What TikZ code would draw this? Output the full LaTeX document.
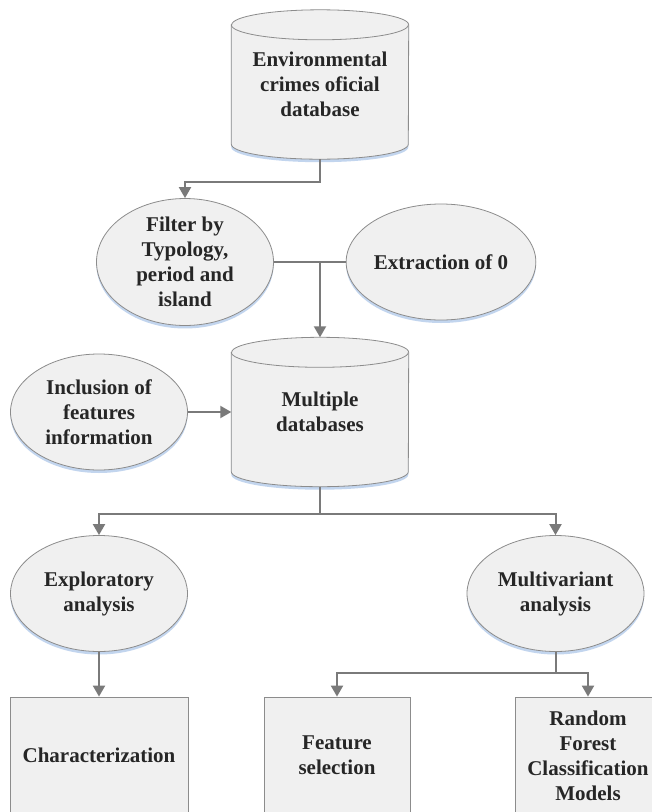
\documentclass[tikz,border=0pt]{standalone}
\usepackage{fontspec}
\setmainfont{Liberation Serif}
\usetikzlibrary{shapes.geometric,arrows.meta,shadows,backgrounds}
\definecolor{shfill}{HTML}{F0F0F0}
\definecolor{shline}{HTML}{8C8C8C}
\definecolor{conn}{HTML}{7A7A7A}
\definecolor{glow}{HTML}{A9C4E8}
\tikzset{
  txt/.style={font=\bfseries\fontsize{21}{25}\selectfont, text=black!85, align=center},
  glowsh/.style={drop shadow={shadow xshift=0pt, shadow yshift=-3pt, fill=glow, opacity=0.7}},
  ell/.style={ellipse, draw=shline, fill=shfill, line width=0.8pt, inner sep=0pt,
    minimum width=177pt, minimum height=116pt, txt, glowsh},
  boxn/.style={rectangle, draw=shline, fill=shfill, line width=0.8pt, inner sep=0pt,
    minimum height=117pt, txt},
  cylt/.style={inner sep=0pt, minimum width=177pt, minimum height=149pt, txt},
  cylbody/.style={fill=shfill, draw=shline, line width=0.8pt, glowsh},
  arr/.style={draw=conn, line width=2pt, -{Triangle[width=12pt,length=11pt]}},
  ln/.style={draw=conn, line width=2pt},
}
\newcommand\mycylinder[1]{%
  \path[cylbody] ([yshift=-15pt]#1.north west) -- ([yshift=15pt]#1.south west)
    arc[start angle=180, end angle=360, x radius=88.5pt, y radius=15pt]
    -- ([yshift=-15pt]#1.north east)
    arc[start angle=0, end angle=180, x radius=88.5pt, y radius=15pt] -- cycle;
  \draw[shline, line width=0.8pt] ([yshift=-15pt]#1.north west)
    arc[start angle=180, end angle=360, x radius=88.5pt, y radius=15pt];
}
\begin{document}
\begin{tikzpicture}[x=1pt, y=-1pt]
\useasboundingbox (0,0) rectangle (652,812);
\clip (0,0) rectangle (652,812);

% cylinders (text nodes)
\node[cylt] (db1) at (320,84.5) {Environmental\\crimes oficial\\database};
\node[cylt] (db2) at (320,412) {Multiple\\databases};

\begin{scope}[on background layer]
  \fill[white] (0,0) rectangle (652,812);
  \mycylinder{db1}
  \mycylinder{db2}
\end{scope}

% ellipses
\node[ell] (filter) at (185,262) {Filter by\\Typology,\\period and\\island};
\node[ell] (extr) at (441,262) {Extraction of 0};
\node[ell] (incl) at (99,412) {Inclusion of\\features\\information};
\node[ell] (expl) at (99,593.5) {Exploratory\\analysis};
\node[ell] (multi) at (555.5,593.5) {Multivariant\\analysis};

% boxes
\node[boxn, minimum width=178pt] (char) at (99,755.5) {Characterization};
\node[boxn, minimum width=146pt] (feat) at (337,755.5) {Feature\\selection};
\node[boxn, minimum width=146pt] (rf) at (588,755.5) {Random\\Forest\\Classification\\Models};

% connectors
\draw[arr] (db1.south) -- ++(0,23) -| (filter.north);
\draw[ln] (filter.east) -- (extr.west);
\draw[arr] (db2.north |- filter.east) -- (db2.north);
\draw[arr] (incl.east) -- (db2.west);
\coordinate (j1) at ([yshift=-27pt]db2.south);
\draw[ln] (db2.south) -- (j1);
\draw[arr] (j1) -| (expl.north);
\draw[arr] (j1) -| (multi.north);
\draw[arr] (expl.south) -- (char.north);
\coordinate (j2) at ([yshift=-21pt]multi.south);
\draw[ln] (multi.south) -- (j2);
\draw[arr] (j2) -| (feat.north);
\draw[arr] (j2) -| (rf.north);
\end{tikzpicture}
\end{document}
